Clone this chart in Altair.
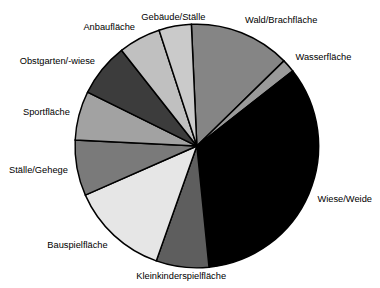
import altair as alt
import pandas as pd
import math

kategorien = ["Wald/Brachfläche", "Wasserfläche", "Wiese/Weide", "Kleinkinderspielfläche",
              "Bauspielfläche", "Ställe/Gehege", "Sportfläche", "Obstgarten/-wiese",
              "Anbaufläche", "Gebäude/Ställe"]
anteile = [13.4, 1.75, 34.0, 7.0, 13.0, 7.4, 6.5, 7.1, 5.6, 4.3]

greys = ["#858585", "#9a9a9a", "#000000", "#5e5e5e", "#e6e6e6",
         "#7a7a7a", "#a2a2a2", "#3c3c3c", "#c0c0c0", "#cacaca"]

df = pd.DataFrame({"Kategorie": kategorien, "Anteil": anteile,
                   "Reihe": list(range(len(kategorien)))})

start = -0.045  # radians, start angle
theta = alt.Theta("Anteil:Q", stack=True,
                  scale=alt.Scale(range=[start, start + 2 * math.pi]))
order = alt.Order("Reihe:Q", sort="ascending")
cx, cy = 193, 138

base = alt.Chart(df).transform_window(
    cum="sum(Anteil)", sort=[alt.SortField("Reihe", order="ascending")]
).transform_joinaggregate(total="sum(Anteil)").transform_calculate(
    mid=f"((datum.cum - datum.Anteil/2)/datum.total*360 + {math.degrees(start)} + 360) % 360"
)

arcs = base.mark_arc(outerRadius=124.5, stroke="black", strokeWidth=1.5).encode(
    theta=theta,
    order=order,
    color=alt.Color("Kategorie:N", scale=alt.Scale(domain=kategorien, range=greys), legend=None),
    x=alt.value(cx), y=alt.value(cy),
)

is_center = "(datum.mid < 15 || datum.mid > 345 || (datum.mid > 165 && datum.mid < 195))"
labels = base.mark_text(
    radius=134, font="Liberation Sans", fontSize=9.5, color="black", baseline="middle",
    align=alt.ExprRef(f"{is_center} ? 'center' : (datum.mid < 180 ? 'left' : 'right')"),
    dy=alt.ExprRef(f"{is_center} ? 0 : -4 * cos(datum.mid * PI / 180)"),
).encode(
    theta=theta,
    order=order,
    text="Kategorie:N",
    x=alt.value(cx), y=alt.value(cy),
)

chart = alt.layer(arcs, labels).properties(
    width=372, height=280, padding=0, autosize="none"
).configure_view(stroke=None)

chart.save("out.html", embed_options={"renderer": "svg", "actions": False})
